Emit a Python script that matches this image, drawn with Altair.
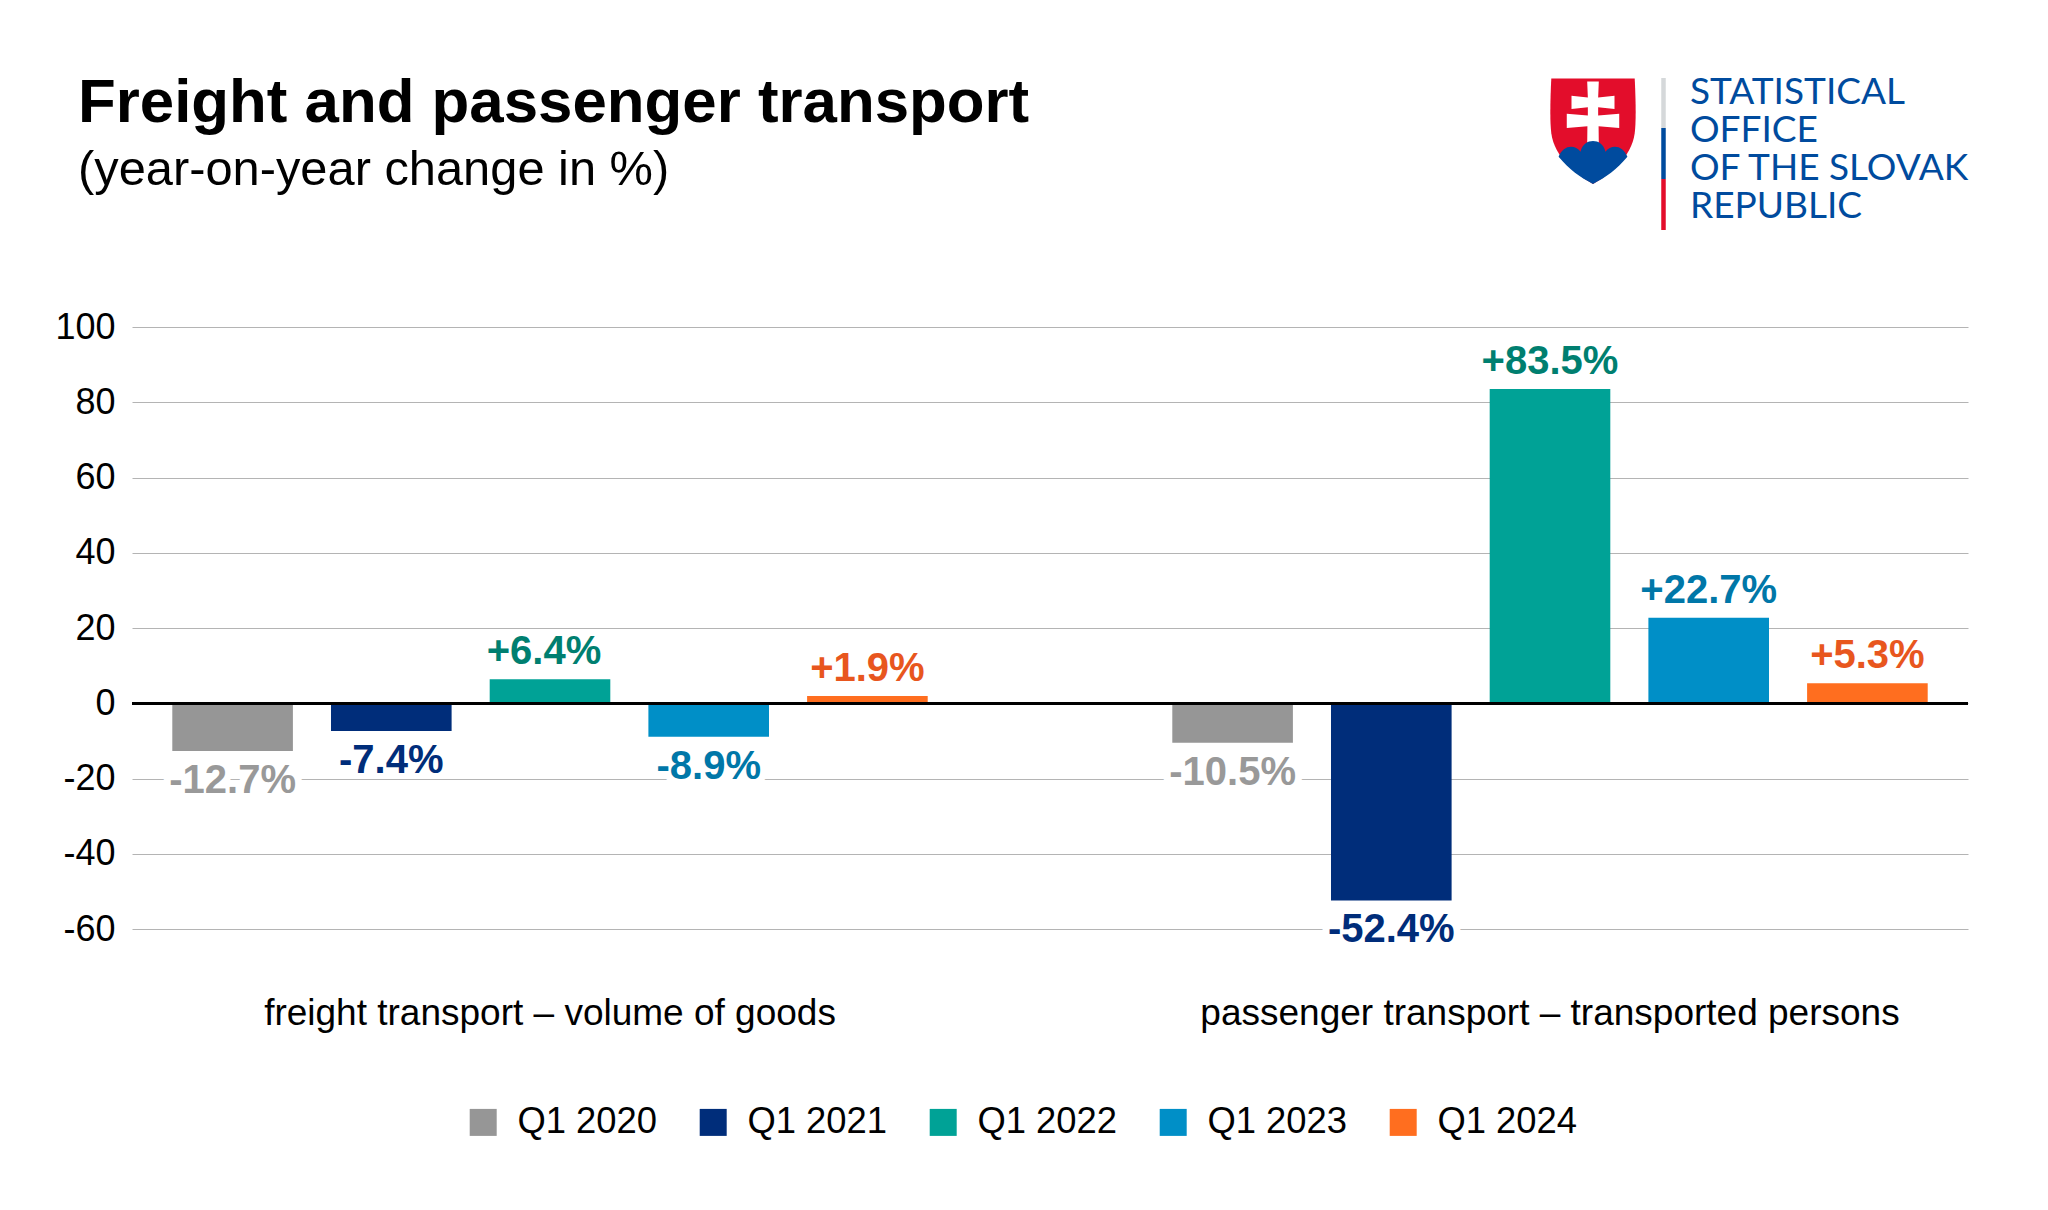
import altair as alt
import pandas as pd

categories = ["freight transport – volume of goods", "passenger transport – transported persons"]
periods = ["Q1 2020", "Q1 2021", "Q1 2022", "Q1 2023", "Q1 2024"]
freight_values = [-12.7, -7.4, 6.4, -8.9, 1.9]
passenger_values = [-10.5, -52.4, 83.5, 22.7, 5.3]
freight_labels = ["-12.7%", "-7.4%", "+6.4%", "-8.9%", "+1.9%"]
passenger_labels = ["-10.5%", "-52.4%", "+83.5%", "+22.7%", "+5.3%"]
bar_colors = ["#969696", "#002D7A", "#00A296", "#008FC7", "#FF6E1F"]
label_colors = ["#999999", "#002D7A", "#007F70", "#0077A8", "#E8561E"]
labels_breaking_grid = ["-12.7%", "-8.9%", "-10.5%", "-52.4%"]
y_ticks = [100, 80, 60, 40, 20, 0, -20, -40, -60]
logo_lines = ["STATISTICAL", "OFFICE", "OF THE SLOVAK", "REPUBLIC"]

rows = []
for cat, vals, labs in ((categories[0], freight_values, freight_labels),
                        (categories[1], passenger_values, passenger_labels)):
    for p, v, l, lc in zip(periods, vals, labs, label_colors):
        rows.append({"category": cat, "period": p, "value": v, "label": l, "labelColor": lc})
df = pd.DataFrame(rows)

FONT = "Liberation Sans"
OX, OY = 132, 327   # page position of the plot area
W, H = 1836, 602

x_enc = alt.X("category:N", sort=categories,
              scale=alt.Scale(paddingInner=0.2065, paddingOuter=0.02125, align=0.5),
              axis=alt.Axis(title=None, domain=False, ticks=False, labelAngle=0, labelFontSize=37,
                            labelFont=FONT, labelColor="#000000", labelPadding=66, labelLimit=900))
x_off = alt.XOffset("period:N", sort=periods, scale=alt.Scale(paddingInner=0.24, paddingOuter=0.12))
y_scale = alt.Scale(domain=[-60, 100], nice=False, zero=False)
y_enc = alt.Y("value:Q", scale=y_scale,
              axis=alt.Axis(title=None, values=y_ticks, domain=False, ticks=False, grid=True,
                            gridColor="#B4B4B4", gridWidth=1, labelFontSize=36, labelFont=FONT,
                            labelColor="#000000", labelPadding=17,
                            labelExpr="toString(datum.value)"))

bars = alt.Chart(df).mark_bar().encode(
    x=x_enc, xOffset=x_off, y=y_enc, y2=alt.datum(0),
    color=alt.Color("period:N", sort=periods,
                    scale=alt.Scale(domain=periods, range=bar_colors),
                    legend=alt.Legend(title=None, orient="none", legendX=473 - OX - 8, legendY=1104 - OY,
                                      direction="horizontal", columns=5, symbolType="square",
                                      symbolSize=729, symbolStrokeWidth=0, labelFontSize=36.4,
                                      labelFont=FONT, labelColor="#000000", labelOffset=16,
                                      columnPadding=37, labelLimit=300)),
)

def value_labels(test, dy, dx=0, **kw):
    return alt.Chart(df).transform_filter(test).mark_text(
        font=FONT, fontSize=40, fontWeight="bold", baseline="middle", dy=dy, dx=dx, **kw).encode(
        x=alt.X("category:N", sort=categories), xOffset=x_off, y=alt.Y("value:Q"), text="label:N",
        **({} if kw else {"color": alt.Color("labelColor:N", scale=None)}))

halo = value_labels(alt.FieldOneOfPredicate(field="label", oneOf=labels_breaking_grid), 30,
                    color="#FFFFFF", stroke="#FFFFFF", strokeWidth=14)
neg = value_labels("datum.value < 0", 30)
pos = value_labels("datum.value >= 0 && datum.label != '+6.4%'", -27)
pos_shifted = value_labels("datum.label == '+6.4%'", -27, dx=-6)

zero = alt.Chart(df).mark_rule(color="#000000", strokeWidth=2.5).encode(y=alt.datum(0))

# logo
one = pd.DataFrame({"a": [0]})
SHIELD = "M-0.97 -1.22 L0.97 -1.22 C1 -0.6 1 -0.2 0.97 0.05 C0.9 0.6 0.4 1 0 1.23 C-0.4 1 -0.9 0.6 -0.97 0.05 C-1 -0.2 -1 -0.6 -0.97 -1.22 Z"
HILLS = "M-0.8 0.6 C-0.7 0.32 -0.42 0.3 -0.29 0.48 C-0.25 0.3 -0.12 0.23 0 0.23 C0.12 0.23 0.25 0.3 0.29 0.48 C0.42 0.3 0.7 0.32 0.8 0.6 C0.55 0.9 0.3 1.08 0 1.23 C-0.3 1.08 -0.55 0.9 -0.8 0.6 Z"
CROSS = ("M-0.135 -1.15 L0.135 -1.15 L0.12 -0.78 L0.5 -0.82 L0.5 -0.51 L0.12 -0.55 L0.12 -0.36 L0.61 -0.4 "
         "L0.61 -0.07 L0.13 -0.11 L0.135 0.3 L-0.135 0.3 L-0.13 -0.11 L-0.61 -0.07 L-0.61 -0.4 L-0.12 -0.36 "
         "L-0.12 -0.55 L-0.5 -0.51 L-0.5 -0.82 L-0.12 -0.78 Z")

def shape(path, color):
    return alt.Chart(one).mark_point(shape=path, filled=True, fill=color, stroke=None, opacity=1, size=7396).encode(
        x=alt.value(1593 - OX), y=alt.value(131 - OY))

logo = [shape(SHIELD, "#E30D2B"), shape(CROSS, "#FFFFFF"), shape(HILLS, "#004B9E")]
for y1, y2, c in ((78, 128, "#D5D8DA"), (128, 179, "#004B9E"), (179, 230, "#E30D2B")):
    logo.append(alt.Chart(one).mark_rule(color=c, strokeWidth=4.5).encode(
        x=alt.value(1663.5 - OX), y=alt.value(y1 - OY), y2=alt.value(y2 - OY)))
for line, base in zip(logo_lines, (104, 142, 180, 218)):
    logo.append(alt.Chart(one).mark_text(text=line, font="Lato", fontSize=37, color="#004B9E", align="left",
                                         baseline="alphabetic").encode(
        x=alt.value(1690 - OX), y=alt.value(base - OY)))

chart = alt.layer(bars, zero, halo, neg, pos, pos_shifted, *logo).resolve_scale(color="independent").properties(
    width=W, height=H,
    padding={"left": OX - 8, "top": OY - 8, "right": 2048 - OX - W - 8 - 4, "bottom": 1210 - OY - H - 8 - 8},
    autosize=alt.AutoSizeParams(type="none"),
    background="#FFFFFF",
    title=alt.TitleParams(
        text="Freight and passenger transport", subtitle="(year-on-year change in %)",
        font=FONT, fontSize=61.8, fontWeight="bold", color="#000000",
        subtitleFont=FONT, subtitleFontSize=48.8, subtitleColor="#000000", subtitlePadding=11,
        anchor="start", frame="group", dx=78 - OX, offset=0, dy=121),
).configure_view(stroke=None)

chart.save("out.html", embed_options={"renderer": "svg", "actions": False})
